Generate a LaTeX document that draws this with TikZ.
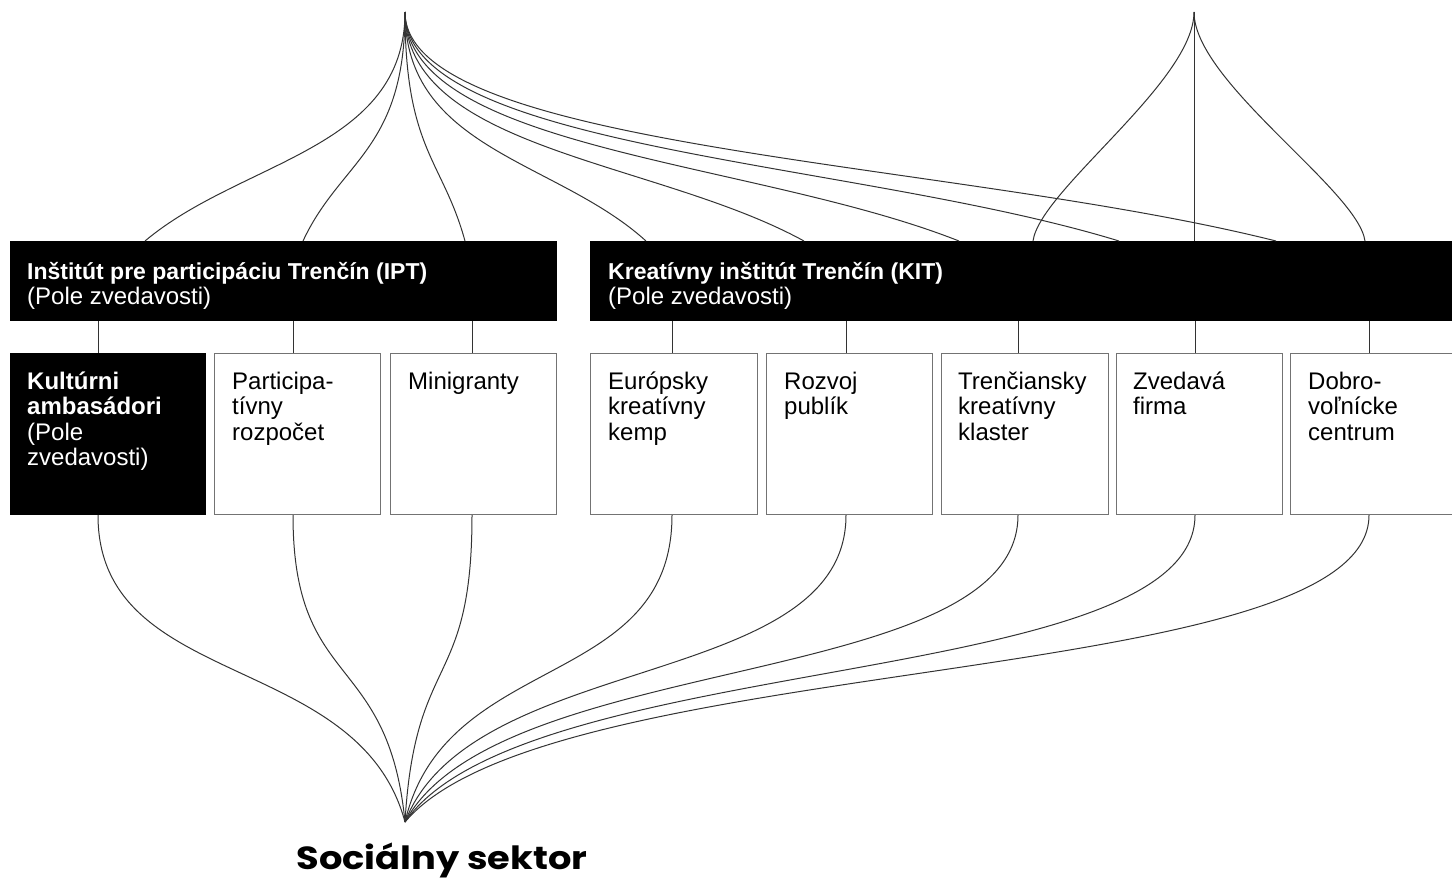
\documentclass[tikz,border=0pt]{standalone}
\usepackage{fontspec}
\setmainfont{Liberation Sans}
\newfontfamily\titlefont{Poppins}[FakeStretch=1.15]
\begin{document}
\begin{tikzpicture}[x=1pt,y=-1pt,
  bar/.style={fill=black,draw=none,inner sep=0pt,anchor=north west,minimum height=80pt},
  box/.style={draw=black!55,line width=1.2pt,fill=white,inner sep=0pt,anchor=north west,minimum height=161pt},
  lbl/.style={anchor=base west,inner sep=0pt,align=left,font=\fontsize{24}{25.5}\selectfont},
  hdl/.style={lbl,text=white},
  conn/.style={draw=black!80,line width=1pt},
  sect/.style={anchor=base,inner sep=0pt,font=\titlefont\bfseries\fontsize{32}{40}\selectfont}]
\useasboundingbox (0,0) rectangle (1452,879);
\clip (0,0) rectangle (1452,879);

% apex points
\coordinate (pub) at (405,12);
\coordinate (priv) at (1194,12);
\coordinate (soc) at (405,822);

% bars
\node[bar,minimum width=547pt] (ipt) at (10,241) {};
\node[bar,minimum width=880pt] (kit) at (590,241) {};

% boxes
\node[box,fill=black,draw=black,minimum width=195pt] (b1) at (10,353) {};
\node[box,minimum width=166pt] (b2) at (214,353) {};
\node[box,minimum width=166pt] (b3) at (390,353) {};
\node[box,minimum width=167pt] (b4) at (590,353) {};
\node[box,minimum width=166pt] (b5) at (766,353) {};
\node[box,minimum width=167pt] (b6) at (941,353) {};
\node[box,minimum width=166pt] (b7) at (1116,353) {};
\node[box,minimum width=190pt] (b8) at (1290,353) {};

% top-left fan
\foreach \e/\n in {145/ipt,303/ipt,465/ipt,646/kit,804/kit,959/kit,1119/kit,1276/kit}{
  \pgfmathsetmacro\dx{-0.37*(\e-405)}
  \coordinate (t\e) at (\e,0);
  \draw[conn] (pub) .. controls +(0,138) and +(\dx,-81) .. (\n.north -| t\e);
}

% top-right fan
\coordinate (r1) at (1033,0);
\coordinate (r3) at (1365,0);
\draw[conn] (priv) .. controls +(0,70) and +(7,-51) .. (kit.north -| r1);
\draw[conn] (priv) -- (kit.north -| priv);
\draw[conn] (priv) .. controls +(0,70) and +(-7,-51) .. (kit.north -| r3);

% stubs and bottom fan
\foreach \s/\b/\u in {98/b1/ipt,293/b2/ipt,472/b3/ipt,672/b4/kit,846/b5/kit,1018/b6/kit,1195/b7/kit,1369/b8/kit}{
  \coordinate (s\s) at (\s,0);
  \draw[conn] (\u.south -| s\s) -- (\b.north -| s\s);
  \pgfmathsetmacro\dx{0.15*(\s-405)}
  \draw[conn] (\b.south -| s\s) .. controls +(0,176) and +(\dx,-172) .. (soc);
}

% texts (anchor base = baseline of the last line)
\node[hdl] (iptt) at (27,304.5) {{\fontsize{23}{25.5}\selectfont\bfseries Inštitút pre participáciu Trenčín (IPT)}\\(Pole zvedavosti)};
\node[hdl] (kitt) at (608,304.5) {{\fontsize{23}{25.5}\selectfont\bfseries Kreatívny inštitút Trenčín (KIT)}\\(Pole zvedavosti)};

\node[hdl] (t1) at (27,465.5) {\textbf{Kultúrni}\\\textbf{ambasádori}\\(Pole\\zvedavosti)};
\node[lbl] (t2) at (232,440) {Participa-\\tívny\\rozpočet};
\node[lbl] (t3) at (408,389) {Minigranty};
\node[lbl] (t4) at (608,440) {Európsky\\kreatívny\\kemp};
\node[lbl] (t5) at (784,414.5) {Rozvoj\\publík};
\node[lbl] (t6) at (958,440) {Trenčiansky\\kreatívny\\klaster};
\node[lbl] (t7) at (1133,414.5) {Zvedavá\\firma};
\node[lbl] (t8) at (1308,440) {Dobro-\\voľnícke\\centrum};

\node[sect] (soct) at (442,869) {Sociálny sektor};
\end{tikzpicture}
\end{document}
